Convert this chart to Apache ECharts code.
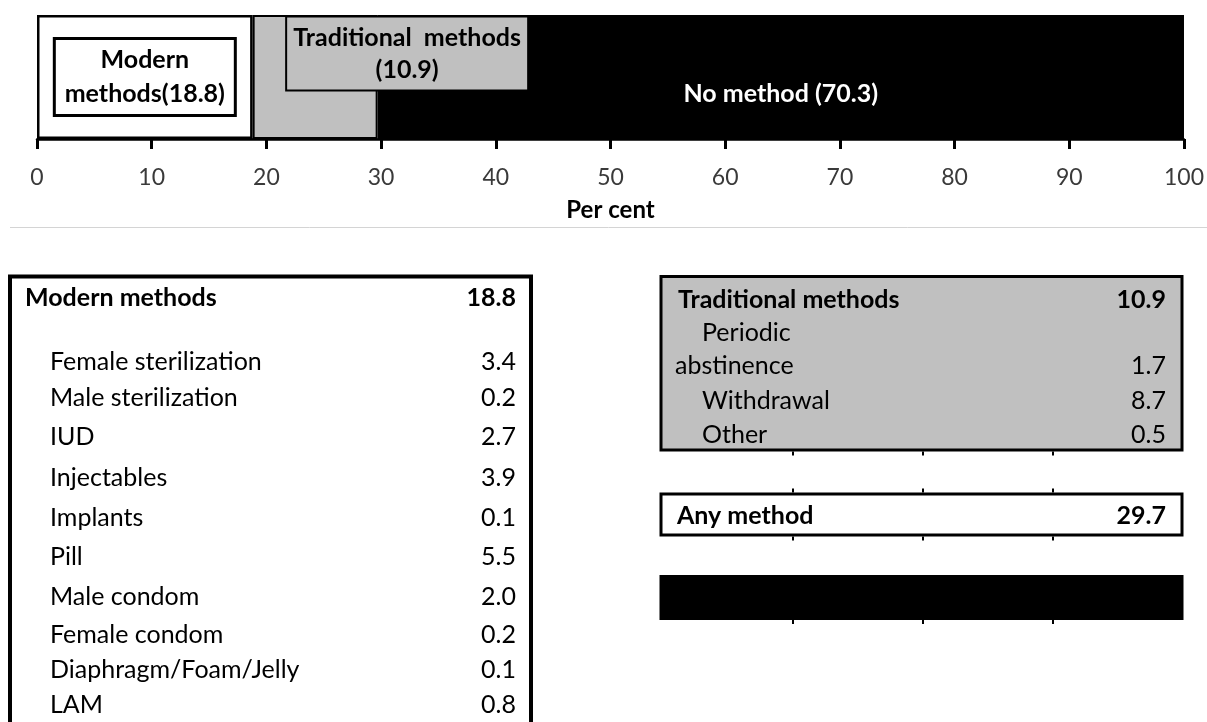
<!DOCTYPE html>
<html>
<head>
<meta charset="utf-8">
<title>Contraceptive use, per cent</title>
<script src="https://cdn.jsdelivr.net/npm/echarts@6/dist/echarts.min.js"></script>
<style>
  html, body { margin: 0; padding: 0; background: #fff; }
  #chart { width: 1207px; height: 722px; }
</style>
</head>
<body>
<div id="chart"></div>
<script>
// ---- data ----
const barCategories = ['Modern methods', 'Traditional methods', 'No method'];
const barValues = [18.8, 10.9, 70.3];
const xTicks = [0, 10, 20, 30, 40, 50, 60, 70, 80, 90, 100];
const axisTitle = 'Per cent';

const modernTitle = 'Modern methods';
const modernTotal = 18.8;
const modernNames = ['Female sterilization', 'Male sterilization', 'IUD', 'Injectables', 'Implants',
  'Pill', 'Male condom', 'Female condom', 'Diaphragm/Foam/Jelly', 'LAM'];
const modernValues = [3.4, 0.2, 2.7, 3.9, 0.1, 5.5, 2.0, 0.2, 0.1, 0.8];

const traditionalTitle = 'Traditional methods';
const traditionalTotal = 10.9;
const traditionalNames = ['Periodic\nabstinence', 'Withdrawal', 'Other'];
const traditionalValues = [1.7, 8.7, 0.5];

const anyTitle = 'Any method';
const anyTotal = 29.7;

// ---- layout ----
const FONT = 'Lato, Carlito, "Open Sans", sans-serif';
const TFS = 25;            // table font size
const GRAY = '#C0C0C0';
const fmt = v => v.toFixed(1);

const chart = echarts.init(document.getElementById('chart'), null, { renderer: 'canvas' });

function txt(text, x, y, opts) {
  opts = opts || {};
  return {
    type: 'text', silent: true, z: 20,
    style: {
      text: text, x: x, y: y,
      fill: opts.fill || '#000',
      font: (opts.bold ? 'bold ' : '') + (opts.size || TFS) + 'px ' + FONT,
      textAlign: opts.align || 'left',
      textVerticalAlign: 'middle'
    }
  };
}
function box(x, y, w, h, fill, lw) {
  return {
    type: 'rect', silent: true, z: 10,
    shape: { x: x, y: y, width: w, height: h },
    style: { fill: fill, stroke: '#000', lineWidth: lw }
  };
}
function nicks(xs, y, up) {
  return xs.map(x => ({
    type: 'rect', silent: true, z: 11,
    shape: { x: x - 1, y: up ? y - 4 : y, width: 2, height: 4 },
    style: { fill: '#000' }
  }));
}

const graphics = [];
// divider under the axis
graphics.push({ type: 'line', silent: true, shape: { x1: 10, y1: 227.5, x2: 1207, y2: 227.5 },
  style: { stroke: '#D4D4D4', lineWidth: 1 } });

// Modern methods table
const mX = 10, mR = 531, mTop = 276.5;
graphics.push(box(mX, mTop, mR - mX, 480, '#fff', 4));
graphics.push(txt(modernTitle, 25, 298, { bold: true }));
graphics.push(txt(fmt(modernTotal), 516, 298, { bold: true, align: 'right' }));
const modernRowGaps = [0, 36, 39, 41, 40, 39, 40, 38, 35, 35];
let my = 362;
modernNames.forEach((name, i) => {
  my += modernRowGaps[i];
  graphics.push(txt(name, 50, my));
  graphics.push(txt(fmt(modernValues[i]), 516, my, { align: 'right' }));
});

// Traditional methods table
const tX = 661, tR = 1182, tTop = 276.5, tBot = 450;
const colNicks = [793, 923, 1053];
graphics.push(box(tX, tTop, tR - tX, tBot - tTop, GRAY, 3));
graphics.push(...nicks(colNicks, tBot + 1.5, false));
graphics.push(txt(traditionalTitle, 678, 300, { bold: true }));
graphics.push(txt(fmt(traditionalTotal), 1166, 300, { bold: true, align: 'right' }));
let ty = 300;
traditionalNames.forEach((name, i) => {
  const lines = name.split('\n');
  lines.forEach((ln, k) => {
    ty += (i === 0 && k === 0) ? 33 : (k > 0 ? 33 : 34.5);
    graphics.push(txt(ln, k === 0 ? 702 : 675, ty));
  });
  graphics.push(txt(fmt(traditionalValues[i]), 1166, ty, { align: 'right' }));
});

// Any method
const aTop = 494, aBot = 535;
graphics.push(box(tX, aTop, tR - tX, aBot - aTop, '#fff', 3));
graphics.push(...nicks(colNicks, aTop - 1.5, true));
graphics.push(...nicks(colNicks, aBot + 1.5, false));
graphics.push(txt(anyTitle, 677, 516, { bold: true }));
graphics.push(txt(fmt(anyTotal), 1166, 516, { bold: true, align: 'right' }));

// black band
graphics.push({ type: 'rect', silent: true, z: 10,
  shape: { x: tX - 1.5, y: 575, width: tR - tX + 3, height: 45 }, style: { fill: '#000' } });
graphics.push(...nicks(colNicks, 620, false));

const labelBase = { fontFamily: FONT, fontWeight: 'bold', fontSize: 25 };

const option = {
  animation: false,
  backgroundColor: '#fff',
  grid: { left: 37, right: 23, top: 15, bottom: 583, containLabel: false },
  xAxis: {
    type: 'value',
    min: xTicks[0], max: xTicks[xTicks.length - 1], interval: xTicks[1] - xTicks[0],
    name: axisTitle, nameLocation: 'middle', nameGap: 59,
    nameTextStyle: { fontFamily: FONT, fontWeight: 'bold', fontSize: 24, color: '#000' },
    axisLine: { show: true, lineStyle: { color: '#000', width: 2.5 } },
    axisTick: { show: true, length: 10, lineStyle: { color: '#000', width: 3 } },
    axisLabel: { fontFamily: FONT, fontSize: 23, color: '#3a3a3a', margin: 27 },
    splitLine: { show: false }
  },
  yAxis: {
    type: 'category', data: [''],
    axisLine: { show: false }, axisTick: { show: false }, axisLabel: { show: false }
  },
  series: [
    {
      name: barCategories[0], type: 'bar', stack: 'use', barWidth: '100%', z: 2,
      data: [barValues[0]],
      itemStyle: { color: '#fff', borderColor: '#000', borderWidth: 2.5 },
      label: Object.assign({}, labelBase, {
        show: true, position: 'inside', color: '#000',
        formatter: p => 'Modern\nmethods(' + fmt(p.value) + ')',
        lineHeight: 34, width: 164, align: 'center',
        backgroundColor: '#fff', borderColor: '#000', borderWidth: 3, padding: [3, 7]
      })
    },
    {
      name: barCategories[1], type: 'bar', stack: 'use', barWidth: '100%', z: 4,
      data: [barValues[1]],
      itemStyle: { color: GRAY, borderColor: '#000', borderWidth: 2 },
      label: Object.assign({}, labelBase, {
        show: true, position: 'inside', color: '#000', offset: [92, -23.5],
        formatter: p => 'Traditional  methods\n(' + fmt(p.value) + ')',
        lineHeight: 32, width: 228, align: 'center',
        backgroundColor: GRAY, borderColor: '#000', borderWidth: 2, padding: [4, 6]
      })
    },
    {
      name: barCategories[2], type: 'bar', stack: 'use', barWidth: '100%', z: 3,
      data: [barValues[2]],
      itemStyle: { color: '#000', borderColor: '#000', borderWidth: 2 },
      label: Object.assign({}, labelBase, {
        show: true, position: 'inside', color: '#fff', offset: [0, 17],
        formatter: p => 'No method (' + fmt(p.value) + ')'
      })
    }
  ],
  graphic: graphics
};
chart.setOption(option);
</script>
</body>
</html>
